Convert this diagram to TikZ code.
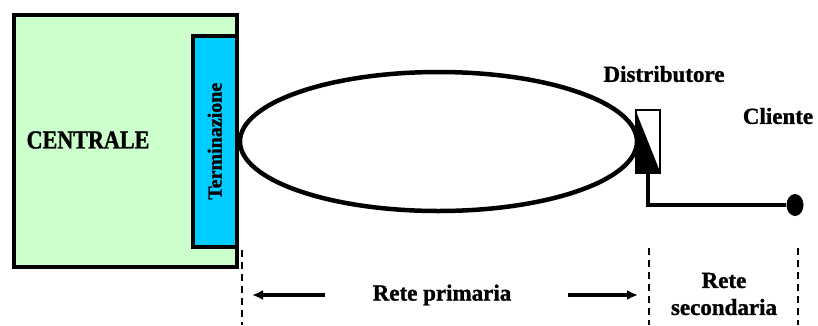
\documentclass[tikz,border=0pt]{standalone}
\usepackage{fontspec}
\setmainfont[FakeBold=1.2]{Liberation Serif}
\newfontfamily\narrowfont[FakeStretch=0.85,FakeBold=1.2]{Liberation Serif}
\usetikzlibrary{shapes.geometric,arrows.meta}
\definecolor{centralegreen}{HTML}{CCFFCC}
\definecolor{termcyan}{HTML}{00CCFF}
\tikzset{
  lbl/.style={font=\fontsize{23}{25}\selectfont\bfseries, inner sep=0pt, align=center},
  bord/.style={draw=black, line width=3.5pt},
  divider/.style={draw=black, line width=1.8pt, dash pattern=on 7pt off 5pt},
  spanarrow/.style={line width=3.5pt, -{Latex[length=11pt,width=10pt]}},
}
\begin{document}
\begin{tikzpicture}[x=1pt,y=-1pt]
\useasboundingbox (0,0) rectangle (818,325);
% shadow
\fill[gray!70] (15,16) rectangle (238,268);
\node[bord, fill=centralegreen, minimum width=223pt, minimum height=252pt, anchor=north west, inner sep=0pt] (centrale) at (12,13) {};
\node[bord, fill=termcyan, minimum width=44pt, minimum height=211pt, anchor=north east, inner sep=0pt] (term) at (centrale.east |- 0,34) {};
\node[lbl, rotate=90, font=\fontsize{20}{22}\selectfont\bfseries] (termtxt) at (term.center) {Terminazione};
\node[lbl, font=\narrowfont\fontsize{26}{28}\selectfont\bfseries] (centtxt) at (88,140) {CENTRALE};
% loop
\node[ellipse, draw, line width=4.5pt, minimum width=397pt, minimum height=139pt, inner sep=0pt] (loop) at (438.5,141.5) {};
% distributore
\node[draw, line width=1.8pt, fill=white, minimum width=24pt, minimum height=63pt, inner sep=0pt] (dist) at (648,141.5) {};
\fill (dist.north west) -- (dist.south east) -- (dist.south west) -- cycle;
\node[lbl] (disttxt) at (664,74) {Distributore};
\node[lbl] (clitxt) at (778,116) {Cliente};
\node[ellipse, fill=black, minimum width=17pt, minimum height=22pt, inner sep=0pt] (cliente) at (795,205) {};
\draw[line width=4pt] (dist.south) |- (cliente.west);
% dividers
\coordinate (d1t) at (242,250); \coordinate (d1b) at (242,325);
\coordinate (d2t) at (649,248); \coordinate (d2b) at (649,325);
\coordinate (d3t) at (798,248); \coordinate (d3b) at (798,325);
\draw[divider] (d1t) -- (d1b);
\draw[divider] (d2t) -- (d2b);
\draw[divider] (d3t) -- (d3b);
\node[lbl] (prim) at (442,295) {Rete primaria};
\node[lbl, font=\fontsize{23}{27}\selectfont\bfseries] (sec) at (724,294) {Rete\\secondaria};
\coordinate (la) at (325,295); \coordinate (lb) at (252,295);
\coordinate (ra) at (568,295); \coordinate (rb) at (638,295);
\draw[spanarrow] (la) -- (lb);
\draw[spanarrow] (ra) -- (rb);
\end{tikzpicture}
\end{document}
